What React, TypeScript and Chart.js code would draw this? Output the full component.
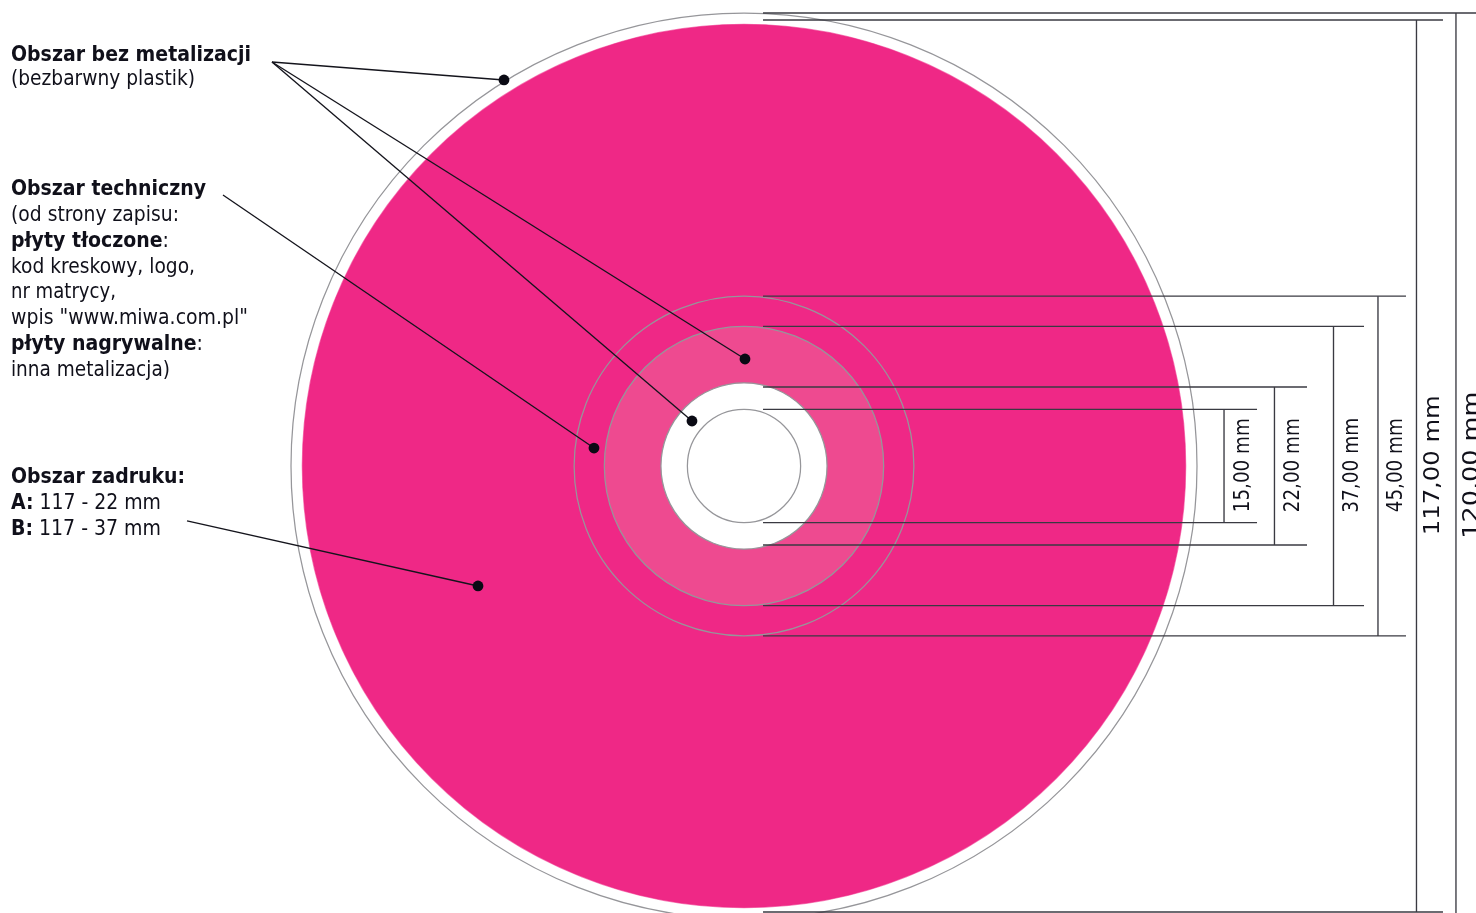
import React, { useEffect, useRef } from "react";
import { Chart, registerables } from "chart.js";

Chart.register(...registerables);

// ---- Data, in millimetres measured from the disc centre ----
const discDiameters = [120, 117, 45, 37, 22, 15];
const discFills = ["rgba(255,255,255,0)", "#EF2886", "rgba(0,0,0,0)", "#EE4A90", "#FFFFFF", "#FFFFFF"];

const dimensionHalfHeights = [60, 59.07, 22.5, 18.5, 10.46, 7.5];
const dimensionLineEnds = [97, 92.58, 87.68, 82.12, 74.57, 67.95];
const dimensionColumns = [94.3, 89.07, 83.97, 78.08, 70.26, 63.58];
const dimensionLabels = ["120,00 mm", "117,00 mm", "45,00 mm", "37,00 mm", "22,00 mm", "15,00 mm"];
const dimensionLabelColumns = [97.2, 92.05, 87.2, 81.35, 73.5, 66.85];
const extensionStart = 2.52;

const leaderStartsX = [-62.52, -62.52, -62.52, -69.01, -73.77];
const leaderStartsY = [53.51, 53.51, 53.51, 35.89, -7.28];
const leaderEndsX = [-31.79, 0.13, -6.89, -19.87, -35.23];
const leaderEndsY = [51.13, 14.17, 5.96, 2.38, -15.89];

type Run = [string, boolean];
const noteLines: Run[][] = [
  [["Obszar bez metalizacji", true]],
  [["(bezbarwny plastik)", false]],
  [["Obszar techniczny", true]],
  [["(od strony zapisu:", false]],
  [["płyty tłoczone", true], [":", false]],
  [["kod kreskowy, logo,", false]],
  [["nr matrycy,", false]],
  [['wpis "www.miwa.com.pl"', false]],
  [["płyty nagrywalne", true], [":", false]],
  [["inna metalizacja)", false]],
  [["Obszar zadruku:", true]],
  [["A:", true], [" 117 - 22 mm", false]],
  [["B:", true], [" 117 - 37 mm", false]],
];
const noteBaselines = [53.64, 50.4, 35.89, 32.45, 29.01, 25.56, 22.19, 18.81, 15.36, 11.92, -2.25, -5.7, -9.14];

// ---- Layout and style ----
const CANVAS_W = 1476;
const CANVAS_H = 913;
const PX_PER_MM = 7.55;
const CENTER_X = 744;
const CENTER_Y = 466;
const NOTE_LEFT_MM = -97.09;
const NOTE_WIDTHS = [240, 184, 195, 168, 158, 184, 105, 237, 192, 159, 174, 150, 150];
const DIM_WIDTHS = [147, 140, 94, 95, 94, 94];
const DIM_CENTER_MM = 0.1;
const FONT = "'DejaVu Sans'";
const NOTE_SIZE = 20.5;
const DIM_SIZE = 20.5;
const INK = "#10101a";
const RING_GREY = "#96969a";
const LINE_GREY = "#3a3a42";

function drawRuns(ctx: CanvasRenderingContext2D, runs: Run[], size: number, width: number) {
  const font = (bold: boolean) => `${bold ? "bold " : ""}${size}px ${FONT}`;
  let total = 0;
  for (const [t, b] of runs) {
    ctx.font = font(b);
    total += ctx.measureText(t).width;
  }
  ctx.scale(width / total, 1);
  let x = 0;
  for (const [t, b] of runs) {
    ctx.font = font(b);
    ctx.fillText(t, x, 0);
    x += ctx.measureText(t).width;
  }
}

const textPlugin = {
  id: "discText",
  afterDatasetsDraw(chart: any) {
    const { ctx, scales } = chart;
    ctx.save();
    ctx.fillStyle = INK;
    ctx.textAlign = "left";
    ctx.textBaseline = "alphabetic";
    noteLines.forEach((runs, i) => {
      ctx.save();
      ctx.translate(scales.x.getPixelForValue(NOTE_LEFT_MM), scales.y.getPixelForValue(noteBaselines[i]));
      drawRuns(ctx, runs, NOTE_SIZE, NOTE_WIDTHS[i]);
      ctx.restore();
    });
    dimensionLabels.forEach((label, i) => {
      ctx.save();
      ctx.translate(
        scales.x.getPixelForValue(dimensionLabelColumns[i]),
        scales.y.getPixelForValue(DIM_CENTER_MM) + DIM_WIDTHS[i] / 2
      );
      ctx.rotate(-Math.PI / 2);
      drawRuns(ctx, [[label, false]], DIM_SIZE, DIM_WIDTHS[i]);
      ctx.restore();
    });
    ctx.restore();
  },
};

function line(points: { x: number; y: number }[], color: string, order: number) {
  return {
    type: "scatter" as const,
    showLine: true,
    data: points,
    borderColor: color,
    borderWidth: 1.35,
    pointRadius: 0,
    pointHoverRadius: 0,
    order,
  };
}

export default function App() {
  const ref = useRef<HTMLCanvasElement>(null);

  useEffect(() => {
    if (!ref.current) return;
    let order = 1000;
    const datasets: any[] = [];

    discDiameters.forEach((d, i) => {
      datasets.push({
        type: "scatter",
        data: [{ x: 0, y: 0 }],
        backgroundColor: discFills[i],
        borderColor: i === 1 ? "rgba(239,40,134,0.6)" : RING_GREY,
        borderWidth: 1.25,
        pointRadius: (c: any) => {
          const s = c.chart.scales.x;
          return s.getPixelForValue(d / 2) - s.getPixelForValue(0);
        },
        pointHoverRadius: 0,
        clip: false,
        order: order--,
      });
    });

    dimensionHalfHeights.forEach((h, i) => {
      datasets.push(line([{ x: extensionStart, y: h }, { x: dimensionLineEnds[i], y: h }], LINE_GREY, order--));
      datasets.push(line([{ x: extensionStart, y: -h }, { x: dimensionLineEnds[i], y: -h }], LINE_GREY, order--));
      datasets.push(line([{ x: dimensionColumns[i], y: h }, { x: dimensionColumns[i], y: -h }], LINE_GREY, order--));
    });

    leaderStartsX.forEach((x, i) => {
      datasets.push(line([{ x, y: leaderStartsY[i] }, { x: leaderEndsX[i], y: leaderEndsY[i] }], "#14141c", order--));
    });

    datasets.push({
      type: "scatter",
      data: leaderEndsX.map((x, i) => ({ x, y: leaderEndsY[i] })),
      backgroundColor: "#0a0a14",
      borderWidth: 0,
      pointRadius: 5.4,
      pointHoverRadius: 5.4,
      order: order--,
    });

    const chart = new Chart(ref.current, {
      type: "scatter",
      data: { datasets },
      options: {
        animation: false,
        responsive: false,
        devicePixelRatio: 1,
        events: [],
        layout: { padding: 0, autoPadding: false },
        plugins: { legend: { display: false }, tooltip: { enabled: false }, title: { display: false } },
        scales: {
          x: { type: "linear", display: false, min: -CENTER_X / PX_PER_MM, max: (CANVAS_W - CENTER_X) / PX_PER_MM },
          y: { type: "linear", display: false, min: -(CANVAS_H - CENTER_Y) / PX_PER_MM, max: CENTER_Y / PX_PER_MM },
        },
      },
      plugins: [textPlugin],
    } as any);
    return () => chart.destroy();
  }, []);

  return (
    <div style={{ position: "fixed", left: 0, top: 0, width: CANVAS_W, height: CANVAS_H, overflow: "hidden", background: "#fff" }}>
      <canvas ref={ref} width={CANVAS_W} height={CANVAS_H} style={{ display: "block" }} />
    </div>
  );
}
